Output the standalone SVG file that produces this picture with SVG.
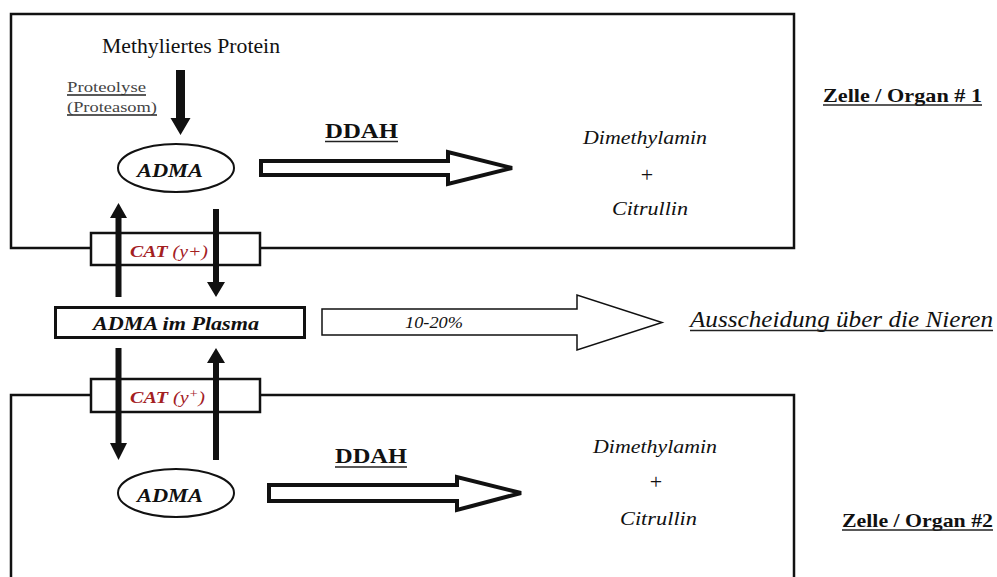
<svg xmlns="http://www.w3.org/2000/svg" width="997" height="577" viewBox="0 0 997 577">
  <style>
    text { font-family: "Liberation Serif", "Times New Roman", serif; fill: #111; }
    .frame { fill: none; stroke: #111; stroke-width: 2.5; }
    .cat { fill: #fff; stroke: #111; stroke-width: 2.5; }
    .cell { fill: #fff; stroke: #111; stroke-width: 2; }
    .bi { font-weight: bold; font-style: italic; }
    .b { font-weight: bold; }
    .it { font-style: italic; }
    .red { fill: #a3201f; }
    .ul { stroke: #222; stroke-width: 1.3; }
    .solid { fill: #111; stroke: none; }
    .fat { fill: #fff; stroke: #111; stroke-width: 4; stroke-linejoin: miter; }
    .thin { fill: #fff; stroke: #111; stroke-width: 1.5; }
  </style>

  <!-- compartment outlines -->
  <g id="organ1">
    <rect class="frame" x="11" y="14" width="783" height="234"/>
    <text class="b" x="823" y="102" font-size="19" textLength="159" lengthAdjust="spacingAndGlyphs">Zelle / Organ # 1</text>
    <line class="ul" x1="823" y1="105" x2="982" y2="105"/>
  </g>
  <g id="organ2">
    <path class="frame" d="M11,580 V395 H794 V580"/>
    <text class="b" x="842" y="527" font-size="19" textLength="151" lengthAdjust="spacingAndGlyphs">Zelle / Organ #2</text>
    <line class="ul" x1="842" y1="530" x2="993" y2="530"/>
  </g>

  <!-- transporters in the membranes -->
  <g id="cat1">
    <rect class="cat" x="91" y="233" width="169" height="32"/>
    <text class="bi red" x="130" y="257" font-size="17" textLength="78" lengthAdjust="spacingAndGlyphs">CAT <tspan font-weight="normal">(y+)</tspan></text>
  </g>
  <g id="cat2">
    <rect class="cat" x="91" y="379" width="169" height="33"/>
    <text class="bi red" x="130" y="403" font-size="17" textLength="75" lengthAdjust="spacingAndGlyphs">CAT <tspan font-weight="normal">(y<tspan dy="-5" font-size="12">+</tspan><tspan dy="5">)</tspan></tspan></text>
  </g>

  <!-- upper compartment content -->
  <g id="protein">
    <text x="102" y="53" font-size="20" textLength="178" lengthAdjust="spacingAndGlyphs">Methyliertes Protein</text>
  </g>
  <g id="proteolyse">
    <text x="67" y="92" font-size="14" style="fill:#444" textLength="79" lengthAdjust="spacingAndGlyphs">Proteolyse</text>
    <line class="ul" x1="67" y1="95" x2="146" y2="95"/>
    <text x="67" y="112" font-size="14" style="fill:#444" textLength="90" lengthAdjust="spacingAndGlyphs">(Proteasom)</text>
    <line class="ul" x1="67" y1="115" x2="157" y2="115"/>
  </g>
  <g id="adma1">
    <ellipse class="cell" cx="176" cy="168" rx="58" ry="24"/>
    <text class="bi" x="137" y="177" font-size="19" textLength="66" lengthAdjust="spacingAndGlyphs">ADMA</text>
  </g>
  <g id="ddah1">
    <text class="b" x="325" y="138" font-size="22" textLength="73" lengthAdjust="spacingAndGlyphs">DDAH</text>
    <line class="ul" x1="325" y1="141.5" x2="398" y2="141.5"/>
  </g>
  <g id="products1">
    <text class="it" x="583" y="144" font-size="18" textLength="124" lengthAdjust="spacingAndGlyphs">Dimethylamin</text>
    <text x="647" y="182" font-size="22" text-anchor="middle">+</text>
    <text class="it" x="612" y="215" font-size="18" textLength="76" lengthAdjust="spacingAndGlyphs">Citrullin</text>
  </g>

  <!-- plasma and renal excretion -->
  <g id="plasma">
    <rect x="55.5" y="307.5" width="249" height="30" fill="#fff" stroke="#111" stroke-width="3"/>
    <text class="bi" x="93" y="330" font-size="19" textLength="166" lengthAdjust="spacingAndGlyphs">ADMA im Plasma</text>
  </g>
  <g id="niere">
    <text class="it" x="690" y="327" font-size="23" textLength="303" lengthAdjust="spacingAndGlyphs">Ausscheidung über die Nieren</text>
    <line class="ul" x1="690" y1="330.5" x2="993" y2="330.5"/>
  </g>

  <!-- lower compartment content -->
  <g id="adma2">
    <ellipse class="cell" cx="176" cy="493" rx="58" ry="24"/>
    <text class="bi" x="137" y="502" font-size="19" textLength="66" lengthAdjust="spacingAndGlyphs">ADMA</text>
  </g>
  <g id="ddah2">
    <text class="b" x="335" y="463" font-size="22" textLength="72" lengthAdjust="spacingAndGlyphs">DDAH</text>
    <line class="ul" x1="335" y1="467" x2="407" y2="467"/>
  </g>
  <g id="products2">
    <text class="it" x="593" y="453" font-size="18" textLength="124" lengthAdjust="spacingAndGlyphs">Dimethylamin</text>
    <text x="656" y="489" font-size="22" text-anchor="middle">+</text>
    <text class="it" x="620" y="525" font-size="18" textLength="77" lengthAdjust="spacingAndGlyphs">Citrullin</text>
  </g>

  <!-- arrows -->
  <g id="connectors">
    <!-- proteolysis -->
    <polygon class="solid" points="176,70 185,70 185,118 190.5,118 180.5,135 170.5,118 176,118"/>
    <!-- uptake / release through CAT, organ 1 -->
    <polygon class="solid" points="118.5,203 127,218 121.5,218 121.5,297 115.5,297 115.5,218 110,218"/>
    <polygon class="solid" points="213,209 219,209 219,282 225,282 216,297 207,282 213,282"/>
    <!-- uptake / release through CAT, organ 2 -->
    <polygon class="solid" points="115.5,348 121.5,348 121.5,443 127,443 118.5,460 110,443 115.5,443"/>
    <polygon class="solid" points="216,348 225,363 219,363 219,460 213,460 213,363 207,363"/>
    <!-- DDAH conversion -->
    <path class="fat" d="M261,161 H448 V152 L512,168 L448,184 V175 H261 Z"/>
    <path class="fat" d="M269,485 H457 V477 L521,493 L457,510 V501 H269 Z"/>
    <!-- renal excretion -->
    <path class="thin" d="M322,309 H577 V295 L662,322.5 L577,350 V335 H322 Z"/>
    <text class="it" x="405" y="328" font-size="16" textLength="58" lengthAdjust="spacingAndGlyphs">10-20%</text>
  </g>
</svg>
